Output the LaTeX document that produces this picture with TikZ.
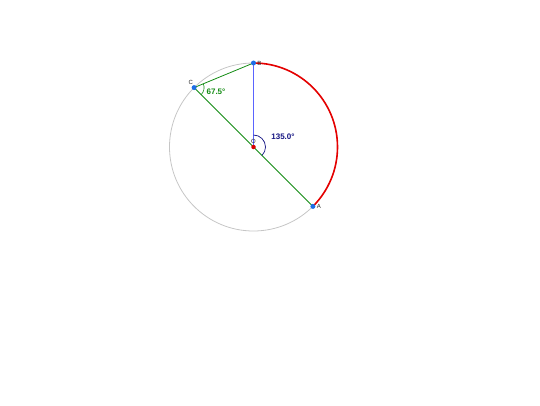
\documentclass[tikz,border=0pt]{standalone}
\usepackage{fontspec}
\setmainfont{Liberation Sans}
\usepackage{tikz}
\usetikzlibrary{calc,positioning}
\definecolor{ptblue}{RGB}{30,110,230}
\definecolor{segblue}{RGB}{90,100,255}
\definecolor{anggreen}{RGB}{20,140,20}
\definecolor{angnavy}{RGB}{20,20,130}
\tikzset{
  pt/.style={circle,fill=ptblue,inner sep=0pt,minimum size=5pt},
  ptlabel/.style={font=\fontsize{6}{6}\selectfont,text=black!85,inner sep=1pt},
  anglabel/.style={font=\fontsize{8}{8}\selectfont\bfseries,inner sep=1pt}
}

\begin{document}
\begin{tikzpicture}[x=1pt,y=1pt]
        \useasboundingbox (0,0) rectangle (540,405);
        % points
        \coordinate (O) at (253.5,258);
        \coordinate (B) at ($(O)+(90:84)$);
        \coordinate (C) at ($(O)+(135:84)$);
        \coordinate (A) at ($(O)+(-45:84)$);
        % circle and arc
        \draw[gray!45,line width=0.8pt] (O) circle (84);
        \draw[red!90!black,line width=1.6pt] (B) arc (90:-45:84);
        % segments
        \draw[anggreen,line width=0.8pt] (C) -- (B);
        \draw[anggreen,line width=0.8pt] (C) -- (A);
        \draw[segblue,line width=1.2pt] (B) -- (O);
        % angle marks
        \draw[anggreen,line width=0.6pt] ($(C)+(-45:10)$) arc (-45:22.5:10);
        \draw[angnavy,line width=0.7pt] ($(O)+(90:12)$) arc (90:-45:12);
        \node[anglabel,text=anggreen] (angC) at (216,313) {67.5°};
        \node[anglabel,text=angnavy] (angO) at (283,268) {135.0°};
        % dots
        \node[pt] (dA) at (A) {};
        \node[pt] (dB) at (B) {};
        \node[pt] (dC) at (C) {};
        \node[circle,fill=red!85!black,inner sep=0pt,minimum size=4.5pt] (dO) at (O) {};
        \node[ptlabel,right=0pt of dA] {A};
        \node[ptlabel,right=0pt of dB] {B};
        \node[ptlabel,above left=0pt and -2pt of dC] {C};
        \node[ptlabel,above=0pt of dO] {O};
    \end{tikzpicture}
\end{document}
